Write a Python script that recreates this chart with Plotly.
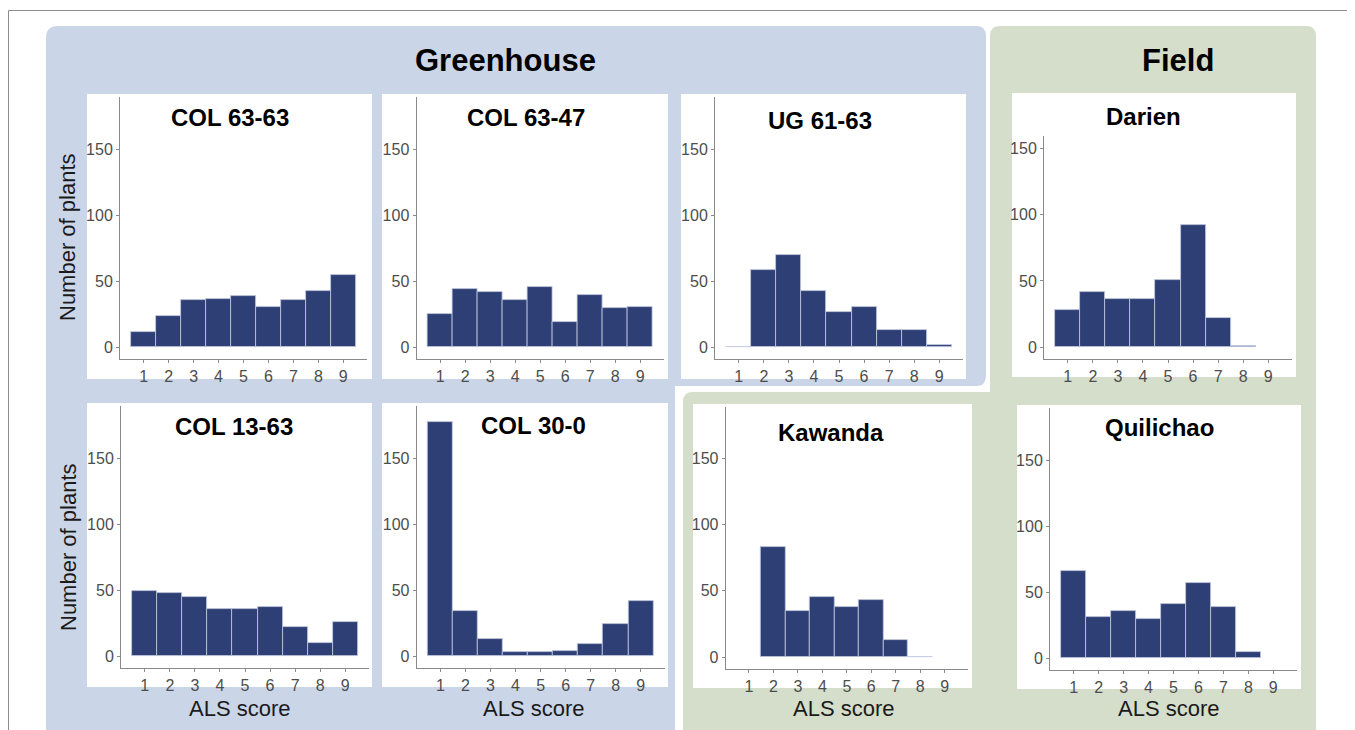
import plotly.graph_objects as go

# ---------------- data ----------------
als_scores = [1, 2, 3, 4, 5, 6, 7, 8, 9]
y_ticks = [0, 50, 100, 150]

panel_names = ["COL 63-63", "COL 63-47", "UG 61-63", "Darien",
               "COL 13-63", "COL 30-0", "Kawanda", "Quilichao"]

col_63_63 = [12, 24, 36, 37, 39, 31, 36, 43, 55]
col_63_47 = [25, 44, 42, 36, 46, 19, 40, 30, 31]
ug_61_63 = [0, 59, 70, 43, 27, 31, 13, 13, 2]
darien = [28, 42, 36, 36, 51, 92, 22, 1, None]
col_13_63 = [49, 48, 45, 36, 36, 37, 22, 10, 26]
col_30_0 = [177, 34, 13, 3, 3, 4, 9, 24, 42]
kawanda = [None, 83, 35, 45, 38, 43, 13, 0, None]
quilichao = [66, 31, 36, 30, 41, 57, 39, 5, None]

series = [col_63_63, col_63_47, ug_61_63, darien,
          col_13_63, col_30_0, kawanda, quilichao]

group_titles = ["Greenhouse", "Field"]
y_title = "Number of plants"
x_title = "ALS score"

# ---------------- layout helpers ----------------
# the page body has an 8px margin, so the figure starts at (8, 8) in the window
OFF = 8
W, H = 1355 - OFF, 730 - OFF


def fx(px):
    return (px - OFF) / W


def fy(py):
    return 1 - (py - OFF) / H


# plot areas in window pixels: (x0, x1, y_top, y_bottom)
areas = [
    (120, 367, 97, 359),
    (416.5, 664, 97, 359),
    (715, 963, 97, 359),
    (1044, 1292, 136, 359),
    (121, 369, 406, 668),
    (416.7, 664.5, 406, 668),
    (725.7, 968, 407, 669),
    (1050, 1297, 408, 670),
]
y_ranges = [[-8.8, 190], [-8.8, 190], [-8.8, 190], [-9, 159.5],
            [-9, 189.4], [-9, 189.4], [-9, 188.6], [-9, 189.4]]

# white panel boxes (x0, y0, x1, y1)
white_boxes = [
    (87, 94, 372, 379),
    (382, 94, 668, 379),
    (681, 94, 966, 379),
    (1012, 93, 1296, 377),
    (87, 403, 372, 687),
    (382, 403, 668, 687),
    (693, 404, 972, 688),
    (1017, 405, 1301, 689),
]
title_pos = [(230, 117), (526, 117), (820, 121), (1143, 116),
             (234, 426), (533, 425), (831, 432), (1159, 427)]

BAR_FILL = "#2E3F76"
BAR_LINE = "#C3CAE0"
AXIS_COL = "#8A8A8A"
FONT = "Arial, Liberation Sans, sans-serif"
TICK_FONT = dict(family=FONT, size=16, color="#4D4D4D")

fig = go.Figure()

for i, vals in enumerate(series):
    n = "" if i == 0 else str(i + 1)
    fig.add_trace(go.Bar(
        x=als_scores, y=vals, width=1,
        marker=dict(color=BAR_FILL, line=dict(color=BAR_LINE, width=0.8)),
        xaxis="x" + n, yaxis="y" + n, showlegend=False,
        hoverinfo="x+y",
    ))
    x0, x1, yt, yb = areas[i]
    fig.layout["xaxis" + n] = dict(
        domain=[fx(x0), fx(x1)], anchor="y" + n, range=[0.05, 9.95],
        tickmode="array", tickvals=als_scores, ticktext=[str(v) for v in als_scores],
        showline=True, linecolor=AXIS_COL, linewidth=1,
        ticks="outside", ticklen=3, tickcolor=AXIS_COL,
        showgrid=False, zeroline=False, tickfont=TICK_FONT, fixedrange=True,
    )
    fig.layout["yaxis" + n] = dict(
        domain=[fy(yb), fy(yt)], anchor="x" + n, range=y_ranges[i],
        tickmode="array", tickvals=y_ticks, ticktext=[str(v) for v in y_ticks],
        showline=True, linecolor=AXIS_COL, linewidth=1,
        ticks="outside", ticklen=3, tickcolor=AXIS_COL,
        showgrid=False, zeroline=False, tickfont=TICK_FONT, fixedrange=True,
    )


# ---------------- background shapes ----------------
def towards(ax, ay, bx, by, d):
    dx, dy = bx - ax, by - ay
    L = (dx * dx + dy * dy) ** 0.5
    return ax + dx / L * d, ay + dy / L * d


def rpath(points, radii):
    """Polygon path (window pixel points) with optional rounded corners."""
    n = len(points)
    s = ""
    for k in range(n):
        px, py = points[k]
        r = radii[k]
        cmd = "M" if k == 0 else "L"
        if r == 0:
            s += f"{cmd}{fx(px):.6f},{fy(py):.6f} "
            continue
        a = towards(px, py, *points[k - 1], r)
        b = towards(px, py, *points[(k + 1) % n], r)
        s += f"{cmd}{fx(a[0]):.6f},{fy(a[1]):.6f} "
        s += f"Q{fx(px):.6f},{fy(py):.6f} {fx(b[0]):.6f},{fy(b[1]):.6f} "
    return s + "Z"


shapes = []
# Greenhouse (L-shaped, blue)
gh_pts = [(46, 26), (986, 26), (986, 386), (675, 386), (675, 745), (46, 745)]
gh_r = [12, 10, 10, 0, 0, 0]
shapes.append(dict(type="path", xref="paper", yref="paper", path=rpath(gh_pts, gh_r),
                   fillcolor="#CBD5E8", line=dict(width=0), layer="below"))
# Field (L-shaped, green)
fd_pts = [(990, 26), (1316, 26), (1316, 745), (683, 745), (683, 392), (990, 392)]
fd_r = [10, 10, 0, 0, 10, 0]
shapes.append(dict(type="path", xref="paper", yref="paper", path=rpath(fd_pts, fd_r),
                   fillcolor="#D5DECB", line=dict(width=0), layer="below"))
# White panel boxes
for (x0, y0, x1, y1) in white_boxes:
    shapes.append(dict(type="rect", xref="paper", yref="paper",
                       x0=fx(x0), x1=fx(x1), y0=fy(y1), y1=fy(y0),
                       fillcolor="white", line=dict(width=0), layer="below"))
# outer frame
shapes.append(dict(type="rect", xref="paper", yref="paper",
                   x0=fx(8.5), x1=fx(1352.5), y0=fy(760), y1=fy(10.5),
                   fillcolor="rgba(0,0,0,0)", line=dict(color="#8C8C8C", width=1),
                   layer="below"))

# ---------------- text ----------------
annotations = []
for name, (tx, ty) in zip(panel_names, title_pos):
    annotations.append(dict(text=f"<b>{name}</b>", x=fx(tx), y=fy(ty), xref="paper", yref="paper",
                            xanchor="center", yanchor="middle", showarrow=False,
                            font=dict(family=FONT, size=24, color="black")))
for name, (tx, ty) in zip(group_titles, [(505, 61), (1178, 61)]):
    annotations.append(dict(text=f"<b>{name}</b>", x=fx(tx), y=fy(ty), xref="paper", yref="paper",
                            xanchor="center", yanchor="middle", showarrow=False,
                            font=dict(family=FONT, size=31, color="black")))
for cy in (237, 547):
    annotations.append(dict(text=y_title, x=fx(68), y=fy(cy), xref="paper", yref="paper",
                            xanchor="center", yanchor="middle", showarrow=False, textangle=-90,
                            font=dict(family=FONT, size=22, color="#1A1A1A")))
for cx in (240, 534, 844, 1169):
    annotations.append(dict(text=x_title, x=fx(cx), y=fy(708), xref="paper", yref="paper",
                            xanchor="center", yanchor="middle", showarrow=False,
                            font=dict(family=FONT, size=22, color="#1A1A1A")))

fig.update_layout(
    width=W, height=H,
    margin=dict(l=0, r=0, t=0, b=0),
    paper_bgcolor="white", plot_bgcolor="rgba(0,0,0,0)",
    bargap=0, shapes=shapes, annotations=annotations,
    showlegend=False,
)

fig.write_html("out.html", config={"displayModeBar": False})
